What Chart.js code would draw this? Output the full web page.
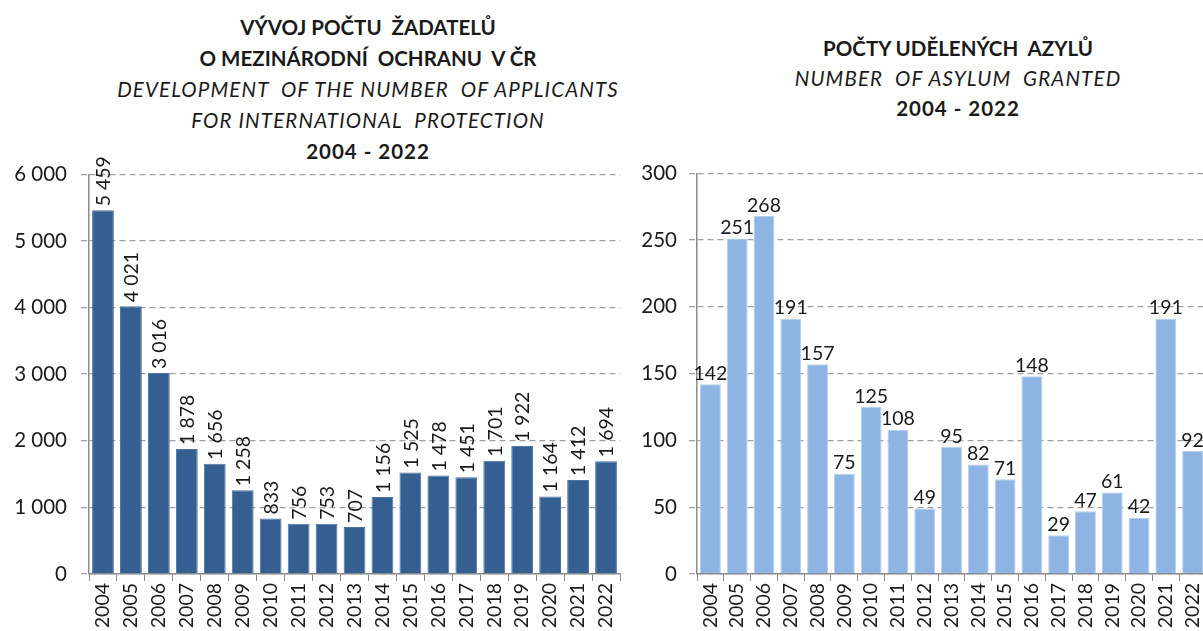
<!DOCTYPE html>
<html>
<head>
<meta charset="utf-8">
<script src="https://cdn.jsdelivr.net/npm/chart.js@4/dist/chart.umd.min.js"></script>
<style>
  html, body { margin: 0; padding: 0; width: 1203px; height: 631px; overflow: hidden; background: #fff; }
  body { font-family: Lato, "Open Sans", sans-serif; color: #1a1a1a; position: relative; }
  .title { position: absolute; text-align: center; font-size: 20.5px; line-height: 31px; white-space: pre; }
  .b { font-weight: bold; }
  .i { font-style: italic; letter-spacing: 1.15px; }
  .y { letter-spacing: 1px; }
  #leftTitle { left: 68px; width: 600px; top: 12px; }
  #rightTitle { left: 658px; width: 600px; top: 33px; line-height: 30px; }
  #leftWrap { position: absolute; left: 0; top: 148px; width: 635px; height: 483px; }
  #rightWrap { position: absolute; left: 640px; top: 149px; width: 580px; height: 482px; }
</style>
</head>
<body>
<div class="title" id="leftTitle"><div class="b">VÝVOJ POČTU  ŽADATELŮ</div><div class="b">O MEZINÁRODNÍ  OCHRANU  V ČR</div><div class="i">DEVELOPMENT  OF THE NUMBER  OF APPLICANTS</div><div class="i">FOR INTERNATIONAL  PROTECTION</div><div class="b y">2004 - 2022</div></div>
<div class="title" id="rightTitle"><div class="b">POČTY UDĚLENÝCH  AZYLŮ</div><div class="i">NUMBER  OF ASYLUM  GRANTED</div><div class="b y">2004 - 2022</div></div>
<div id="leftWrap"><canvas id="leftChart"></canvas></div>
<div id="rightWrap"><canvas id="rightChart"></canvas></div>
<script>
// values
const years = ['2004', '2005', '2006', '2007', '2008', '2009', '2010', '2011', '2012', '2013',
  '2014', '2015', '2016', '2017', '2018', '2019', '2020', '2021', '2022'];
const applicants = [5459, 4021, 3016, 1878, 1656, 1258, 833, 756, 753, 707,
  1156, 1525, 1478, 1451, 1701, 1922, 1164, 1412, 1694];
const asylumGranted = [142, 251, 268, 191, 157, 75, 125, 108, 49, 95,
  82, 71, 148, 29, 47, 61, 42, 191, 92];
const applicantTicks = [0, 1000, 2000, 3000, 4000, 5000, 6000];
const asylumTicks = [0, 50, 100, 150, 200, 250, 300];

const textColor = '#1a1a1a';
const axisColor = '#8c8c8c';
const gridColor = '#a0a0a0';
const fontFamily = 'Lato, "Open Sans", sans-serif';

// 5459 -> "5 459"
function spaced(v) {
  return String(v).replace(/\B(?=(\d{3})+(?!\d))/g, ' ');
}

// draws the value above every bar, rotated or flat
const valueLabels = {
  id: 'valueLabels',
  afterDatasetsDraw(chart, args, opts) {
    const ctx = chart.ctx;
    const meta = chart.getDatasetMeta(0);
    const values = chart.data.datasets[0].data;
    ctx.save();
    ctx.font = opts.size + 'px ' + fontFamily;
    ctx.fillStyle = textColor;
    meta.data.forEach((bar, i) => {
      const text = spaced(values[i]);
      if (opts.rotate) {
        ctx.save();
        ctx.translate(bar.x + 1, bar.y - 4);
        ctx.rotate(-Math.PI / 2);
        ctx.textAlign = 'left';
        ctx.textBaseline = 'middle';
        ctx.fillText(text, 0, 0);
        ctx.restore();
      } else {
        ctx.textAlign = 'center';
        ctx.textBaseline = 'bottom';
        ctx.fillText(text, bar.x, bar.y - 1);
      }
    });
    ctx.restore();
  }
};

function makeChart(id, values, ticks, color, opts) {
  return new Chart(document.getElementById(id), {
    type: 'bar',
    data: {
      labels: years,
      datasets: [{
        data: values,
        backgroundColor: color,
        borderColor: opts.border,
        borderWidth: 1,
        categoryPercentage: 0.78,
        barPercentage: 1
      }]
    },
    options: {
      responsive: true,
      maintainAspectRatio: false,
      animation: false,
      events: [],
      layout: { padding: { top: opts.top, right: opts.right, left: 0, bottom: 0 } },
      plugins: {
        legend: { display: false },
        tooltip: { enabled: false },
        valueLabels: { rotate: opts.rotate, size: 19.5 }
      },
      scales: {
        x: {
          grid: { offset: true, drawOnChartArea: false, tickLength: 7, color: axisColor },
          border: { color: axisColor, width: 1.5 },
          ticks: {
            autoSkip: false, maxRotation: 90, minRotation: 90, padding: 2,
            color: textColor, font: { family: fontFamily, size: 19.5 }
          },
          afterFit: s => { s.height = 57; }
        },
        y: {
          min: ticks[0],
          max: ticks[ticks.length - 1],
          afterBuildTicks: s => { s.ticks = ticks.map(v => ({ value: v })); },
          grid: { color: gridColor, lineWidth: 1.3, tickLength: 8, tickColor: gridColor, tickBorderDash: [6, 4] },
          border: { color: axisColor, width: 1.5, dash: [6, 4] },
          ticks: {
            padding: opts.tickPad,
            color: textColor,
            font: { family: fontFamily, size: 20.5 },
            callback: v => spaced(v)
          },
          afterFit: s => { s.width = opts.yWidth; }
        }
      }
    },
    plugins: [valueLabels]
  });
}

makeChart('leftChart', applicants, applicantTicks, '#365f91',
  { border: '#4d74a6', rotate: true, top: 20, right: 15, yWidth: 89, tickPad: 14 });
makeChart('rightChart', asylumGranted, asylumTicks, '#8db4e2',
  { border: '#b7d0ef', rotate: false, top: 20, right: 14, yWidth: 57, tickPad: 12 });
</script>
</body>
</html>
